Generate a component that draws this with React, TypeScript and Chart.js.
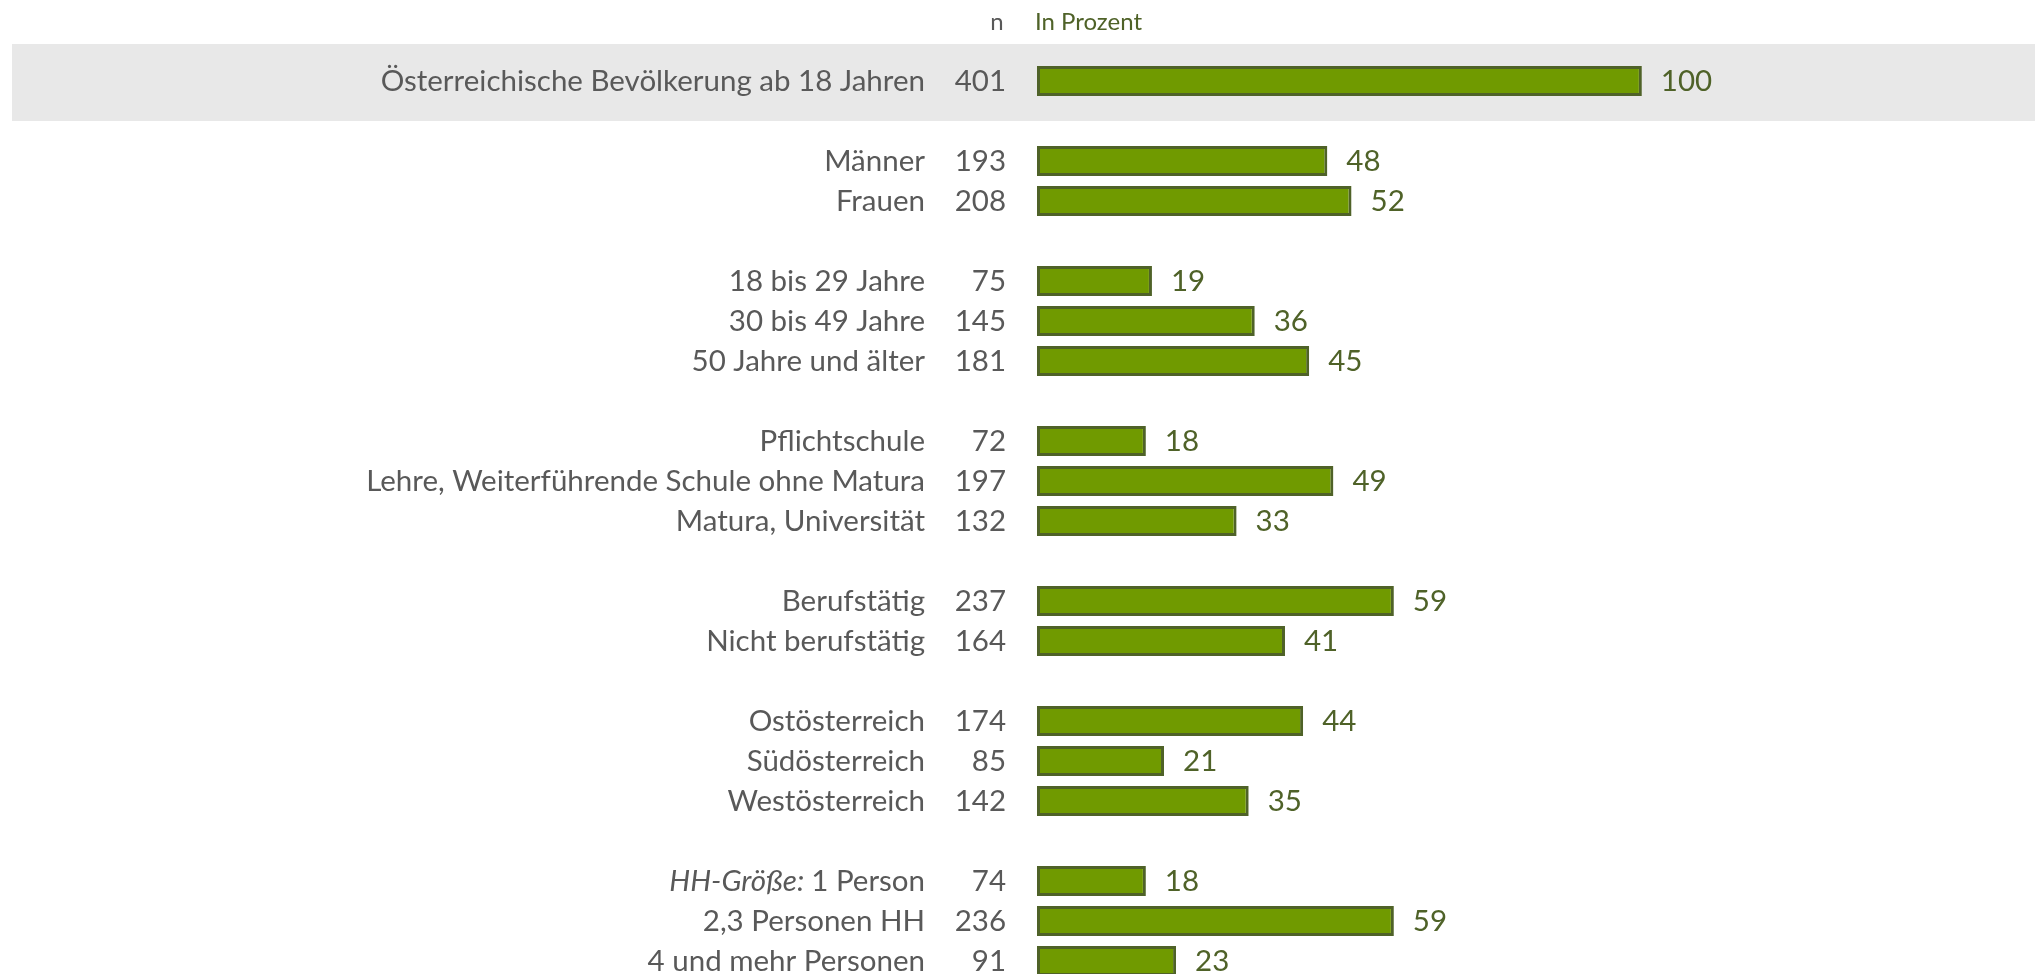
import React, { useEffect, useRef } from "react";
import { Chart, registerables } from "chart.js";

Chart.register(...registerables);

// Row labels ('' = blank spacer row between groups)
const categories: string[] = [
  "Österreichische Bevölkerung ab 18 Jahren",
  "",
  "Männer",
  "Frauen",
  "",
  "18 bis 29 Jahre",
  "30 bis 49 Jahre",
  "50 Jahre und älter",
  "",
  "Pflichtschule",
  "Lehre, Weiterführende Schule ohne Matura",
  "Matura, Universität",
  "",
  "Berufstätig",
  "Nicht berufstätig",
  "",
  "Ostösterreich",
  "Südösterreich",
  "Westösterreich",
  "",
  "HH-Größe: 1 Person",
  "2,3 Personen HH",
  "4 und mehr Personen",
];

// Sample sizes (n)
const nValues: (number | null)[] = [
  401, null, 193, 208, null, 75, 145, 181, null, 72, 197, 132, null, 237, 164, null, 174, 85, 142, null, 74, 236, 91,
];

// Percentages
const percentValues: (number | null)[] = [
  100, null, 48, 52, null, 19, 36, 45, null, 18, 49, 33, null, 59, 41, null, 44, 21, 35, null, 18, 59, 23,
];

const headerN = "n";
const headerPercent = "In Prozent";
const italicPrefix = "HH-Größe: ";

const FONT = "Lato";
const FONT_SIZE = 29.5;
const TEXT_GREY = "#595959";
const DARK_GREEN = "#4F6228";
const BAR_FILL = "#709A00";

export default function App() {
  const canvasRef = useRef<HTMLCanvasElement | null>(null);

  useEffect(() => {
    const canvas = canvasRef.current;
    if (!canvas) return;

    const bandPlugin = {
      id: "band",
      beforeDraw(chart: any) {
        const ctx = chart.ctx;
        const y = chart.scales.y;
        const c = y.getPixelForValue(0);
        ctx.save();
        ctx.fillStyle = "#E8E8E8";
        ctx.fillRect(12, c - 37, 2023, 77);
        ctx.restore();
      },
    };

    const labelPlugin = {
      id: "labels",
      afterDatasetsDraw(chart: any) {
        const ctx = chart.ctx;
        const meta = chart.getDatasetMeta(0);
        ctx.save();
        ctx.font = `${FONT_SIZE}px ${FONT}`;
        ctx.fillStyle = DARK_GREEN;
        ctx.textAlign = "left";
        ctx.textBaseline = "middle";
        meta.data.forEach((bar: any, i: number) => {
          const v = percentValues[i];
          if (v == null) return;
          ctx.fillText(String(v), bar.x + 19, bar.y);
        });
        ctx.restore();
      },
      afterDraw(chart: any) {
        const ctx = chart.ctx;
        const yScale = chart.scales.y;
        const area = chart.chartArea;
        ctx.save();
        // header
        ctx.textBaseline = "middle";
        ctx.font = `24px ${FONT}`;
        ctx.fillStyle = TEXT_GREY;
        ctx.textAlign = "center";
        ctx.fillText(headerN, 997, 22);
        ctx.fillStyle = DARK_GREEN;
        ctx.textAlign = "left";
        ctx.fillText(headerPercent, area.left - 2, 22);
        // italic prefix
        const idx = categories.findIndex((c) => c.startsWith(italicPrefix));
        if (idx >= 0) {
          const rest = categories[idx].slice(italicPrefix.length);
          ctx.font = `${FONT_SIZE}px ${FONT}`;
          const w = ctx.measureText(rest).width;
          const right = yScale.right - 12;
          ctx.font = `italic ${FONT_SIZE}px ${FONT}`;
          ctx.fillStyle = TEXT_GREY;
          ctx.textAlign = "right";
          ctx.fillText(italicPrefix, right - w, yScale.getPixelForValue(idx));
        }
        ctx.restore();
      },
    };

    const chart = new Chart(canvas, {
      type: "bar",
      data: {
        labels: categories,
        datasets: [
          {
            data: percentValues as any,
            backgroundColor: BAR_FILL,
            borderColor: DARK_GREEN,
            borderWidth: 3,
            borderSkipped: false,
            barPercentage: 0.75,
            categoryPercentage: 1,
          },
        ],
      },
      options: {
        indexAxis: "y",
        animation: false,
        responsive: false,
        events: [],
        layout: { padding: { top: 61, right: 5, bottom: 0, left: 0 } },
        plugins: {
          legend: { display: false },
          tooltip: { enabled: false },
        },
        scales: {
          x: {
            display: false,
            min: 0,
            max: 165,
          },
          y: {
            type: "category",
            position: "left",
            weight: 1,
            offset: true,
            grid: { display: false, drawTicks: false, tickLength: 0 },
            border: { display: false },
            ticks: {
              autoSkip: false,
              padding: 12,
              color: TEXT_GREY,
              font: { family: FONT, size: FONT_SIZE },
              callback: function (this: any, value: any) {
                const s: string = categories[value as number];
                return s.startsWith(italicPrefix) ? s.slice(italicPrefix.length) : s;
              },
            },
            afterFit(scale: any) {
              scale.width = 937;
              scale.paddingTop = 0;
              scale.paddingBottom = 0;
            },
          },
          yN: {
            type: "category",
            position: "left",
            weight: 0,
            offset: true,
            labels: nValues.map((v) => (v == null ? "" : String(v))),
            grid: { display: false, drawTicks: false, tickLength: 0 },
            border: { display: false },
            ticks: {
              autoSkip: false,
              padding: 31,
              color: TEXT_GREY,
              font: { family: FONT, size: FONT_SIZE },
            },
            afterFit(scale: any) {
              scale.width = 100;
              scale.paddingTop = 0;
              scale.paddingBottom = 0;
            },
          },
        },
      } as any,
      plugins: [bandPlugin, labelPlugin],
    });

    return () => {
      chart.destroy();
    };
  }, []);

  return (
    <div
      style={{
        position: "absolute",
        left: 0,
        top: 0,
        width: 2040,
        height: 974,
        overflow: "hidden",
        background: "#ffffff",
      }}
    >
      <canvas ref={canvasRef} width={2040} height={981} style={{ display: "block" }} />
    </div>
  );
}
